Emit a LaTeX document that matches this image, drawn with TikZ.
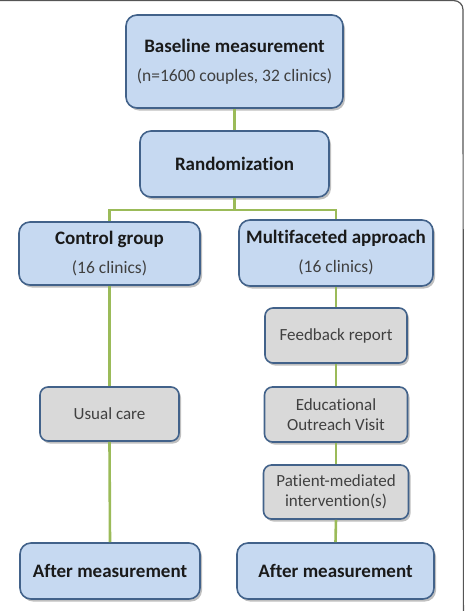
\documentclass[tikz,border=0pt]{standalone}
\usepackage{fontspec}
\setmainfont{Carlito}[Ligatures=NoCommon]
\usetikzlibrary{shadows}
\definecolor{bluefill}{HTML}{C6D9F1}
\definecolor{grayfill}{HTML}{D9D9D9}
\definecolor{boxline}{HTML}{42628A}
\definecolor{conn}{HTML}{9BBB59}
\definecolor{subtext}{HTML}{404040}
\definecolor{titletext}{HTML}{1A1A1A}
\definecolor{framecol}{HTML}{555555}
\newcommand{\subline}[1]{{\fontsize{17.5}{29}\selectfont\mdseries\color{subtext}#1}}
\tikzset{
  bluebox/.style={draw=boxline, line width=1.6pt, fill=bluefill, rounded corners=11pt,
    drop shadow={shadow xshift=2pt, shadow yshift=-2.5pt, opacity=0.25, fill=black},
    align=center, inner sep=0pt, text=titletext, font=\fontsize{19}{29}\selectfont\bfseries},
  graybox/.style={draw=boxline, line width=1.6pt, fill=grayfill, rounded corners=8pt,
    drop shadow={shadow xshift=2pt, shadow yshift=-2.5pt, opacity=0.25, fill=black},
    align=center, inner sep=0pt, text=subtext, font=\fontsize{17}{20}\selectfont},
  connector/.style={draw=conn, line width=2.6pt},
}
\begin{document}
\begin{tikzpicture}[x=1pt, y=-1pt]
\useasboundingbox (0,0) rectangle (465,611);
% outer frame
\draw[framecol, line width=1.2pt] (0,0.6) -- (454,0.6) arc[start angle=90, end angle=0, radius=9pt] -- (463.4,611);
% nodes
\node[bluebox, minimum width=217pt, minimum height=93pt] (base) at (234.5,61.5)
  {Baseline measurement\\\subline{(n=1600 couples, 32 clinics)}};
\node[bluebox, minimum width=189pt, minimum height=66pt] (rand) at (234.5,164)
  {Randomization};
\node[bluebox, minimum width=181pt, minimum height=63pt] (ctrl) at (109.5,253.5)
  {Control group\\\subline{(16 clinics)}};
\node[bluebox, minimum width=194pt, minimum height=66pt] (multi) at (336,253)
  {Multifaceted approach\\\subline{(16 clinics)}};
\node[graybox, minimum width=139pt, minimum height=54pt] (usual) at (109.5,414)
  {Usual care};
\node[graybox, minimum width=142pt, minimum height=55pt] (feed) at (336,335.5)
  {Feedback report};
\node[graybox, minimum width=143pt, minimum height=55pt] (edu) at (336,414.5)
  {Educational\\Outreach Visit};
\node[graybox, minimum width=145pt, minimum height=54pt] (pat) at (336,492)
  {Patient-mediated\\intervention(s)};
\node[bluebox, minimum width=180pt, minimum height=56pt] (aftl) at (110,571)
  {After measurement};
\node[bluebox, minimum width=197pt, minimum height=56pt] (aftr) at (335.5,571)
  {After measurement};
% connectors
\draw[connector] (base.south) -- (rand.north);
\coordinate (split) at (234.5,210);
\draw[connector] (rand.south) -- (split);
\draw[connector] (split) -| (ctrl.north);
\draw[connector] (split) -| (multi.north);
\draw[connector] (ctrl.south) -- (usual.north);
\draw[connector] (usual.south) -- (aftl.north);
\draw[connector] (multi.south) -- (feed.north);
\draw[connector] (feed.south) -- (edu.north);
\draw[connector] (edu.south) -- (pat.north);
\draw[connector] (pat.south) -- (aftr.north);
\end{tikzpicture}
\end{document}
